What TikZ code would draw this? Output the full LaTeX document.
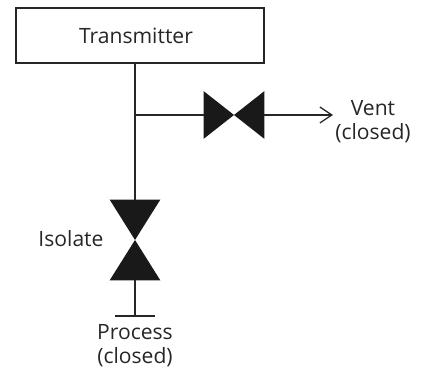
\documentclass[tikz,border=0pt]{standalone}
\usepackage{fontspec}
\setmainfont{Open Sans}
\usetikzlibrary{arrows.meta, positioning, calc}

\begin{document}
\begin{tikzpicture}[
                >=Stealth,
                font=\fontsize{15pt}{17.6pt}\selectfont,
                every node/.style={text=black!85},
                box/.style={draw=black!85, line width=0.9pt, minimum width=6.2cm, minimum height=1.375cm},
                label/.style={align=center, inner sep=0pt},
                valve/.style={inner sep=0pt, minimum width=#1},
                pipe/.style={black!85, line width=1.3pt},
                branch/.style={black!85, line width=0.9pt},
                vent/.style={branch, -{Straight Barb[length=3mm, width=4mm]}}
            ]
                \useasboundingbox (0,0) rectangle (10.675,9.25);
                \node[box] (transmitter) at (3.5,8.36) {Transmitter\kern0.2cm};
                \node[valve=1.5cm, minimum height=1.175cm] (ventvalve) at (5.85,6.375) {};
                \node[valve=1.25cm, minimum height=2cm] (isolatevalve) at (3.375,3.25) {};
                \coordinate (tee) at (3.375,6.375);
                \coordinate (top) at (3.375,7.67);
                \coordinate (ventend) at (8.325,6.375);
                \coordinate (process) at (3.375,1.35);
                \coordinate (capleft) at (2.875,1.35);
                \coordinate (capright) at (3.875,1.35);
                \node[label] (ventlabel) at (9.325,6.21) {Vent\\(closed)};
                \node[label] (isolatelabel) at (1.775,3.275) {Isolate};
                \node[label] (processlabel) at (3.375,0.61) {Process\\(closed)};
                \fill[black!90] (ventvalve.north west) -- (ventvalve.south east) -- (ventvalve.north east) -- (ventvalve.south west) -- cycle;
                \fill[black!90] (isolatevalve.north west) -- (isolatevalve.north east) -- (isolatevalve.south west) -- (isolatevalve.south east) -- cycle;
                \draw[pipe] (top) -- (isolatevalve.north);
                \draw[branch] (tee) -- (ventvalve.west);
                \draw[vent] (ventvalve.east) -- (ventend);
                \draw[pipe] (isolatevalve.south) -- (process);
                \draw[pipe] (capleft) -- (capright);
            \end{tikzpicture}
\end{document}
